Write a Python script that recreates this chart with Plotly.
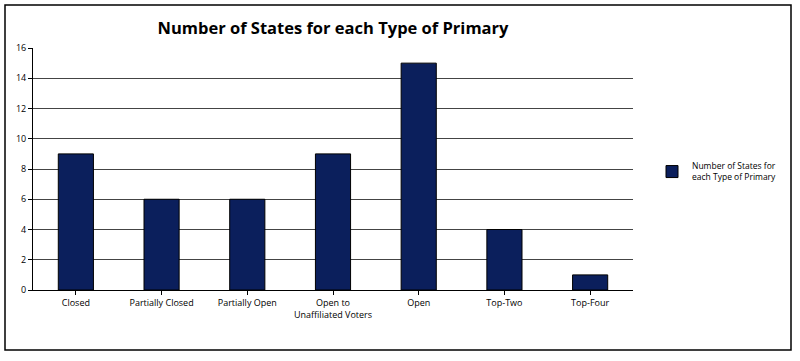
import plotly.graph_objects as go

categories = ["Closed", "Partially Closed", "Partially Open", "Open to<br>Unaffiliated Voters", "Open", "Top-Two", "Top-Four"]
values = [9, 6, 6, 9, 15, 4, 1]
series_name = "Number of States for<br>each Type of Primary"
title_text = "Number of States for each Type of Primary"
y_ticks = [0, 2, 4, 6, 8, 10, 12, 14, 16]

fig = go.Figure()
fig.add_trace(go.Bar(
    x=categories, y=values, name=series_name,
    marker=dict(color="#0b1f5c", line=dict(color="#000000", width=1)),
    width=0.41, showlegend=True,
))

fig.update_layout(
    width=800, height=361,
    margin=dict(l=33, r=167, t=48, b=71, autoexpand=False),
    paper_bgcolor="white", plot_bgcolor="white",
    font=dict(family="Open Sans, Liberation Sans, sans-serif", size=9, color="#000000"),
    title=dict(text="<b>" + title_text + "</b>", x=(33 + 633) / 2 / 800, xanchor="center",
               xref="container", yref="container",
               y=1 - 28 / 361, yanchor="middle",
               font=dict(size=16.5, family="Open Sans, Liberation Sans, sans-serif", color="#000")),
    bargap=0.59,
    showlegend=True,
    legend=dict(x=(652 - 33) / 600, xref="paper", y=(290 - 172) / 242, yref="paper",
                yanchor="middle", xanchor="left",
                font=dict(size=8.5), bgcolor="rgba(0,0,0,0)", itemwidth=30, tracegroupgap=0),
    xaxis=dict(showline=True, linecolor="#000", linewidth=1, ticks="outside", ticklen=4,
               tickcolor="#000", showgrid=False, tickfont=dict(size=9)),
    yaxis=dict(range=[0, 16], tickvals=y_ticks, showline=True, linecolor="#000", linewidth=1,
               ticks="outside", ticklen=4, tickcolor="#000", showgrid=True, gridcolor="#444444",
               gridwidth=1, tickfont=dict(size=9), zeroline=False),
    shapes=[dict(type="rect", xref="paper", yref="paper",
                 x0=-28 / 600, x1=(791 - 33) / 600, y0=-(350 - 290) / 242, y1=(290 - 5) / 242,
                 line=dict(color="#000", width=1.5), fillcolor="rgba(0,0,0,0)", layer="below")],
)

fig.write_html("out.html", config={"displayModeBar": False},
               post_script="document.body.style.margin='0';document.body.style.padding='0';")
